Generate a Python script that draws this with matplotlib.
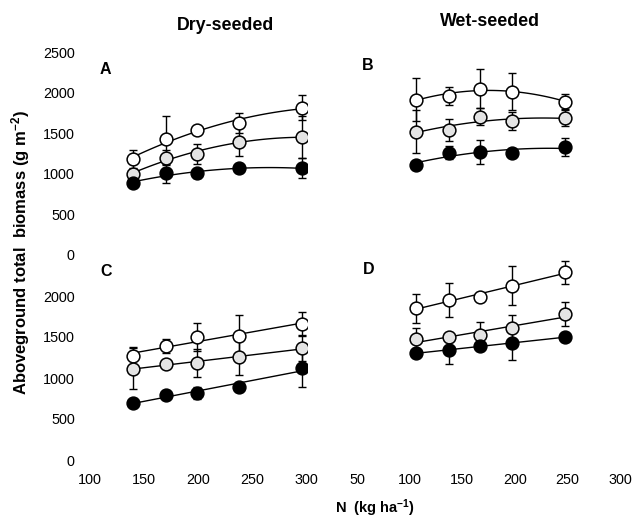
import numpy as np
import matplotlib
matplotlib.use("Agg")
import matplotlib.pyplot as plt

plt.rcParams['font.family'] = ['Liberation Sans', 'DejaVu Sans']
plt.rcParams['mathtext.fontset'] = 'custom'
plt.rcParams['mathtext.rm'] = 'Liberation Sans:bold'
plt.rcParams['mathtext.bf'] = 'Liberation Sans:bold'
plt.rcParams['mathtext.default'] = 'bf'

# N rates (kg/ha)
N_dry = [140, 170, 199, 238, 296]
N_wet = [106, 137, 167, 197, 248]

# Panel A (dry-seeded, top)
A_open = [1180, 1425, 1540, 1625, 1815]
A_open_err = [110, 290, 40, 125, 150]
A_grey = [1000, 1200, 1245, 1395, 1450]
A_grey_err = [60, 90, 120, 180, 260]
A_fill = [890, 1005, 1005, 1070, 1068]
A_fill_err = [30, 120, 60, 30, 125]

# Panel B (wet-seeded, top)
B_open = [1915, 1960, 2050, 2010, 1890]
B_open_err = [270, 115, 240, 230, 95]
B_grey = [1520, 1540, 1705, 1645, 1685]
B_grey_err = [260, 130, 100, 110, 95]
B_fill = [1110, 1260, 1270, 1260, 1325]
B_fill_err = [0, 80, 150, 0, 110]

# Panel C (dry-seeded, bottom)
C_open = [1268, 1390, 1495, 1515, 1660]
C_open_err = [105, 80, 170, 255, 140]
C_grey = [1110, 1170, 1187, 1260, 1360]
C_grey_err = [250, 50, 170, 220, 150]
C_fill = [700, 795, 815, 895, 1120]
C_fill_err = [30, 20, 70, 30, 225]

# Panel D (wet-seeded, bottom)
D_open = [1850, 1950, 1985, 2125, 2290]
D_open_err = [180, 205, 0, 240, 140]
D_grey = [1470, 1495, 1525, 1605, 1780]
D_grey_err = [135, 0, 160, 160, 145]
D_fill = [1300, 1340, 1390, 1430, 1495]
D_fill_err = [0, 170, 0, 210, 0]

y_ticks_top = [0, 500, 1000, 1500, 2000, 2500]
y_ticks_bottom = [0, 500, 1000, 1500, 2000]
x_ticks_dry = [100, 150, 200, 250, 300]
x_ticks_wet = [50, 100, 150, 200, 250, 300]

W, H = 634, 519
fig = plt.figure(figsize=(W / 100, H / 100), dpi=100)

def ax_px(x0, x1, y_top, y_bot):
    return fig.add_axes([x0 / W, 1 - y_bot / H, (x1 - x0) / W, (y_bot - y_top) / H])

axA = ax_px(90, 306.5, 52, 255)
axB = ax_px(357, 620, 52, 255)
axC = ax_px(90, 306.5, 255, 460)
axD = ax_px(357, 620, 255, 460)

styles = [
    dict(mfc='white', mec='black'),
    dict(mfc='#e4e4e4', mec='black'),
    dict(mfc='black', mec='black'),
]

def draw(ax, N, series, deg):
    N = np.asarray(N, float)
    for (vals, errs), st in zip(series, styles):
        vals = np.asarray(vals, float)
        coef = np.polyfit(N, vals, deg)
        xx = np.linspace(N.min(), N.max(), 100)
        ax.plot(xx, np.polyval(coef, xx), color='black', lw=1.0, zorder=2)
        ax.errorbar(N, vals, yerr=errs, fmt='none', ecolor='black', elinewidth=1.0,
                    capsize=3, capthick=1.0, zorder=3)
        ax.plot(N, vals, 'o', ms=9.2, mew=1.1, zorder=4, **st)

draw(axA, N_dry, [(A_open, A_open_err), (A_grey, A_grey_err), (A_fill, A_fill_err)], 2)
draw(axB, N_wet, [(B_open, B_open_err), (B_grey, B_grey_err), (B_fill, B_fill_err)], 2)
draw(axC, N_dry, [(C_open, C_open_err), (C_grey, C_grey_err), (C_fill, C_fill_err)], 1)
draw(axD, N_wet, [(D_open, D_open_err), (D_grey, D_grey_err), (D_fill, D_fill_err)], 1)

for ax in (axA, axB, axC, axD):
    for s in ax.spines.values():
        s.set_visible(False)
    ax.set_ylim(0, 2500)
    ax.tick_params(length=0, labelsize=10.4)
    ax.patch.set_alpha(0)

axA.set_xlim(100, 300); axC.set_xlim(100, 300)
axB.set_xlim(50, 300); axD.set_xlim(50, 300)

axA.set_yticks(y_ticks_top)
axC.set_yticks(y_ticks_bottom)
axB.set_yticks(y_ticks_top); axB.set_yticklabels([])
axD.set_yticks(y_ticks_top); axD.set_yticklabels([])
axA.set_xticks(x_ticks_dry); axA.set_xticklabels([])
axB.set_xticks(x_ticks_wet); axB.set_xticklabels([])
axC.set_xticks(x_ticks_dry)
axD.set_xticks(x_ticks_wet)
for ax in (axA, axC):
    ax.tick_params(axis='y', pad=11)
for ax in (axC, axD):
    ax.tick_params(axis='x', pad=9)

# Panel letters
for lab, (x, y) in zip("ABCD", [(100, 70), (362, 66), (100, 272), (363, 270)]):
    fig.text(x / W, 1 - y / H, lab, fontsize=11.5, fontweight='bold', ha='left', va='center')

fig.text(225 / W, 1 - 25 / H, "Dry-seeded", fontsize=12.8, fontweight='bold', ha='center', va='center')
fig.text(490 / W, 1 - 22 / H, "Wet-seeded", fontsize=12.8, fontweight='bold', ha='center', va='center')

fig.text(21 / W, 1 - 253 / H, "Aboveground total  biomass (g m$^{-2}$)", rotation=90,
         fontsize=12, fontweight='bold', ha='center', va='center')
fig.text(375 / W, 1 - 508 / H, "N  (kg ha$^{-1}$)", fontsize=10.5, fontweight='bold',
         ha='center', va='center')

fig.savefig("out.png", dpi=100)
